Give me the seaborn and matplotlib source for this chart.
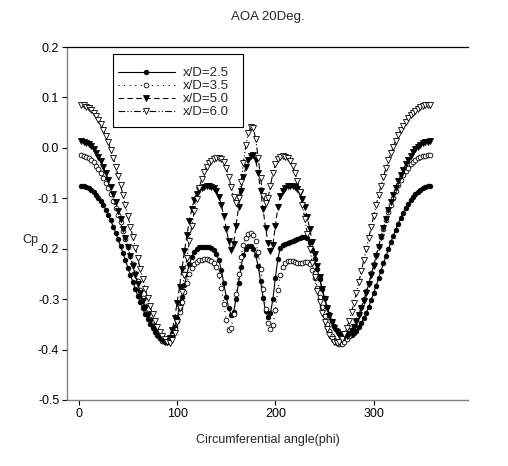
import numpy as np
import pandas as pd
import matplotlib
matplotlib.use("Agg")
import matplotlib.pyplot as plt
from matplotlib.patches import Rectangle
import seaborn as sns

# ---- data ----
phi = [2.5 * k for k in range(1, 144)]  # circumferential angle (deg), 2.5 .. 357.5

cp_25 = [-0.075, -0.076, -0.077, -0.080, -0.083, -0.087, -0.093, -0.099, -0.106, -0.114,
         -0.123, -0.133, -0.144, -0.156, -0.168, -0.181, -0.195, -0.209, -0.223, -0.238,
         -0.252, -0.266, -0.280, -0.293, -0.306, -0.318, -0.330, -0.340, -0.350, -0.358,
         -0.366, -0.372, -0.377, -0.381, -0.383, -0.382, -0.377, -0.368, -0.355, -0.338,
         -0.318, -0.295, -0.272, -0.250, -0.231, -0.216, -0.206, -0.200, -0.197, -0.196,
         -0.196, -0.196, -0.197, -0.199, -0.203, -0.210, -0.222, -0.242, -0.268, -0.295,
         -0.318, -0.331, -0.325, -0.300, -0.268, -0.237, -0.213, -0.200, -0.195, -0.195,
         -0.200, -0.213, -0.235, -0.265, -0.297, -0.323, -0.335, -0.328, -0.300, -0.258,
         -0.220, -0.199, -0.192, -0.190, -0.188, -0.186, -0.184, -0.183, -0.181, -0.179,
         -0.177, -0.176, -0.178, -0.187, -0.202, -0.220, -0.240, -0.260, -0.280, -0.298,
         -0.315, -0.330, -0.343, -0.353, -0.361, -0.367, -0.371, -0.373, -0.374, -0.374,
         -0.372, -0.368, -0.363, -0.356, -0.348, -0.338, -0.327, -0.315, -0.302, -0.288,
         -0.274, -0.259, -0.244, -0.229, -0.215, -0.201, -0.187, -0.174, -0.162, -0.150,
         -0.139, -0.129, -0.120, -0.112, -0.104, -0.098, -0.092, -0.087, -0.083, -0.080,
         -0.078, -0.076, -0.075]

cp_35 = [-0.015, -0.016, -0.018, -0.020, -0.024, -0.029, -0.035, -0.042, -0.050, -0.059,
         -0.069, -0.080, -0.092, -0.105, -0.119, -0.133, -0.148, -0.164, -0.180, -0.197,
         -0.214, -0.231, -0.248, -0.265, -0.282, -0.298, -0.313, -0.327, -0.340, -0.352,
         -0.362, -0.371, -0.378, -0.383, -0.385, -0.384, -0.379, -0.371, -0.359, -0.344,
         -0.326, -0.306, -0.286, -0.267, -0.251, -0.239, -0.231, -0.226, -0.223, -0.222,
         -0.221, -0.221, -0.222, -0.224, -0.228, -0.236, -0.252, -0.278, -0.310, -0.341,
         -0.362, -0.358, -0.330, -0.290, -0.250, -0.217, -0.193, -0.178, -0.170, -0.168,
         -0.172, -0.185, -0.207, -0.240, -0.280, -0.320, -0.348, -0.360, -0.352, -0.322,
         -0.282, -0.252, -0.236, -0.228, -0.225, -0.224, -0.225, -0.227, -0.228, -0.229,
         -0.228, -0.226, -0.226, -0.231, -0.242, -0.258, -0.277, -0.296, -0.315, -0.333,
         -0.349, -0.363, -0.374, -0.382, -0.387, -0.389, -0.388, -0.385, -0.380, -0.373,
         -0.364, -0.354, -0.342, -0.329, -0.315, -0.300, -0.284, -0.267, -0.249, -0.231,
         -0.213, -0.195, -0.177, -0.160, -0.144, -0.128, -0.113, -0.099, -0.086, -0.074,
         -0.063, -0.054, -0.046, -0.039, -0.033, -0.028, -0.024, -0.021, -0.018, -0.017,
         -0.016, -0.015, -0.015]

cp_50 = [0.013, 0.012, 0.010, 0.007, 0.003, -0.003, -0.010, -0.018, -0.027, -0.038,
         -0.050, -0.063, -0.077, -0.092, -0.108, -0.125, -0.142, -0.160, -0.178, -0.197,
         -0.215, -0.234, -0.252, -0.270, -0.287, -0.303, -0.318, -0.332, -0.344, -0.355,
         -0.364, -0.372, -0.378, -0.382, -0.385, -0.385, -0.378, -0.362, -0.338, -0.308,
         -0.275, -0.240, -0.205, -0.173, -0.145, -0.121, -0.103, -0.091, -0.083, -0.079,
         -0.077, -0.076, -0.076, -0.077, -0.080, -0.086, -0.097, -0.113, -0.135, -0.160,
         -0.185, -0.203, -0.190, -0.155, -0.118, -0.085, -0.058, -0.038, -0.024, -0.016,
         -0.014, -0.025, -0.050, -0.085, -0.122, -0.158, -0.188, -0.204, -0.192, -0.155,
         -0.118, -0.096, -0.085, -0.079, -0.076, -0.075, -0.076, -0.078, -0.082, -0.090,
         -0.102, -0.118, -0.138, -0.161, -0.186, -0.210, -0.234, -0.257, -0.279, -0.299,
         -0.317, -0.333, -0.346, -0.357, -0.365, -0.371, -0.374, -0.375, -0.374, -0.370,
         -0.364, -0.355, -0.344, -0.332, -0.318, -0.303, -0.287, -0.270, -0.252, -0.234,
         -0.215, -0.196, -0.177, -0.159, -0.141, -0.124, -0.108, -0.093, -0.079, -0.066,
         -0.054, -0.043, -0.033, -0.024, -0.016, -0.009, -0.003, 0.002, 0.006, 0.009,
         0.011, 0.012, 0.013]

cp_60 = [0.085, 0.084, 0.082, 0.079, 0.075, 0.070, 0.064, 0.056, 0.047, 0.036,
         0.024, 0.011, -0.004, -0.020, -0.037, -0.055, -0.074, -0.094, -0.114, -0.135,
         -0.156, -0.177, -0.198, -0.219, -0.240, -0.260, -0.279, -0.297, -0.314, -0.330,
         -0.344, -0.356, -0.366, -0.374, -0.380, -0.384, -0.386, -0.382, -0.368, -0.346,
         -0.318, -0.286, -0.252, -0.218, -0.185, -0.154, -0.126, -0.101, -0.080, -0.062,
         -0.048, -0.038, -0.031, -0.026, -0.023, -0.021, -0.021, -0.023, -0.029, -0.040,
         -0.057, -0.078, -0.098, -0.110, -0.100, -0.068, -0.030, 0.005, 0.030, 0.042,
         0.040, 0.018, -0.020, -0.060, -0.095, -0.110, -0.100, -0.075, -0.050, -0.033,
         -0.023, -0.018, -0.017, -0.018, -0.021, -0.027, -0.036, -0.049, -0.066, -0.088,
         -0.113, -0.141, -0.170, -0.200, -0.229, -0.257, -0.283, -0.306, -0.327, -0.345,
         -0.360, -0.372, -0.380, -0.385, -0.387, -0.385, -0.379, -0.370, -0.358, -0.343,
         -0.326, -0.307, -0.287, -0.266, -0.244, -0.222, -0.200, -0.178, -0.156, -0.135,
         -0.114, -0.094, -0.075, -0.057, -0.040, -0.025, -0.011, 0.002, 0.014, 0.025,
         0.035, 0.044, 0.052, 0.059, 0.065, 0.070, 0.074, 0.078, 0.081, 0.083,
         0.084, 0.085, 0.085]

labels = ["x/D=2.5", "x/D=3.5", "x/D=5.0", "x/D=6.0"]
x_ticks = [0, 100, 200, 300]
y_ticks = [0.2, 0.1, 0.0, -0.1, -0.2, -0.3, -0.4, -0.5]
y_tick_labels = ["0.2", "0.1", "0.0", "-0.1", "-0.2", "-0.3", "-0.4", "-0.5"]

# ---- styling ----
sns.set_theme(style="white")
plt.rcParams["font.family"] = ["Liberation Sans", "DejaVu Sans"]

W, H = 508, 466
fig = plt.figure(figsize=(W / 100, H / 100), dpi=100)
L, R, T, B = 67, 468, 47, 400
ax = fig.add_axes([L / W, 1 - B / H, (R - L) / W, (B - T) / H])

def ax_x(px):
    return (px - L) / (R - L)

def ax_y(py):
    return 1 - (py - T) / (B - T)

series = [cp_25, cp_35, cp_50, cp_60]
styles = [
    dict(marker="o", ls="-", mfc="black", ms=3.3),
    dict(marker="o", ls=(0, (1, 4)), mfc="white", ms=3.4),
    dict(marker="v", ls=(0, (5, 3)), mfc="black", ms=4.0),
    dict(marker="v", ls=(0, (6, 2, 1, 2, 1, 2)), mfc="white", ms=4.0),
]
for vals, lab, st in zip(series, labels, styles):
    df = pd.DataFrame({"phi": phi, "cp": vals})
    sns.lineplot(data=df, x="phi", y="cp", ax=ax, color="black", lw=0.8,
                 linestyle=st["ls"], marker=st["marker"], markersize=st["ms"],
                 markerfacecolor=st["mfc"], markeredgecolor="black",
                 markeredgewidth=0.6, label=lab)

ax.set_xlim(-12, 396)
ax.set_ylim(-0.5, 0.2)
ax.set_xticks(x_ticks)
ax.set_xticklabels([str(t) for t in x_ticks])
ax.set_yticks(y_ticks)
ax.set_yticklabels(y_tick_labels)
ax.tick_params(axis="both", which="major", direction="out", length=3.5, width=0.8,
               color="black", labelsize=9, labelcolor="black", pad=2)
ax.tick_params(axis="x", bottom=True, top=False)
ax.tick_params(axis="y", left=True, right=False)

for side in ["left", "bottom"]:
    ax.spines[side].set_color("#808080")
    ax.spines[side].set_linewidth(1.0)
ax.spines["top"].set_color("black")
ax.spines["top"].set_linewidth(0.9)
ax.spines["right"].set_visible(False)

ax.set_xlabel("")
ax.set_ylabel("")
ax.text(0.5, -0.113, "Circumferential angle(phi)", transform=ax.transAxes,
        ha="center", va="center", fontsize=9)
ax.text(-0.092, 0.453, "Cp", transform=ax.transAxes, ha="center", va="center",
        fontsize=9)
ax.text(0.5, 1.085, "AOA 20Deg.", transform=ax.transAxes, ha="center",
        va="center", fontsize=9.5)

# legend frame (drawn separately to match the asymmetric padding)
box = Rectangle((ax_x(113), ax_y(127)), ax_x(243) - ax_x(113), ax_y(54) - ax_y(127),
                transform=ax.transAxes, facecolor="white", edgecolor="black",
                linewidth=0.8, zorder=5)
ax.add_patch(box)
leg = ax.legend(loc="upper left", bbox_to_anchor=(ax_x(118), ax_y(67)), borderaxespad=0,
                borderpad=0, fontsize=9.5, handlelength=4.3, handletextpad=0.6,
                labelspacing=0.06, frameon=False, numpoints=1)
leg.set_zorder(6)

fig.savefig("out.png", dpi=100, facecolor="white")
